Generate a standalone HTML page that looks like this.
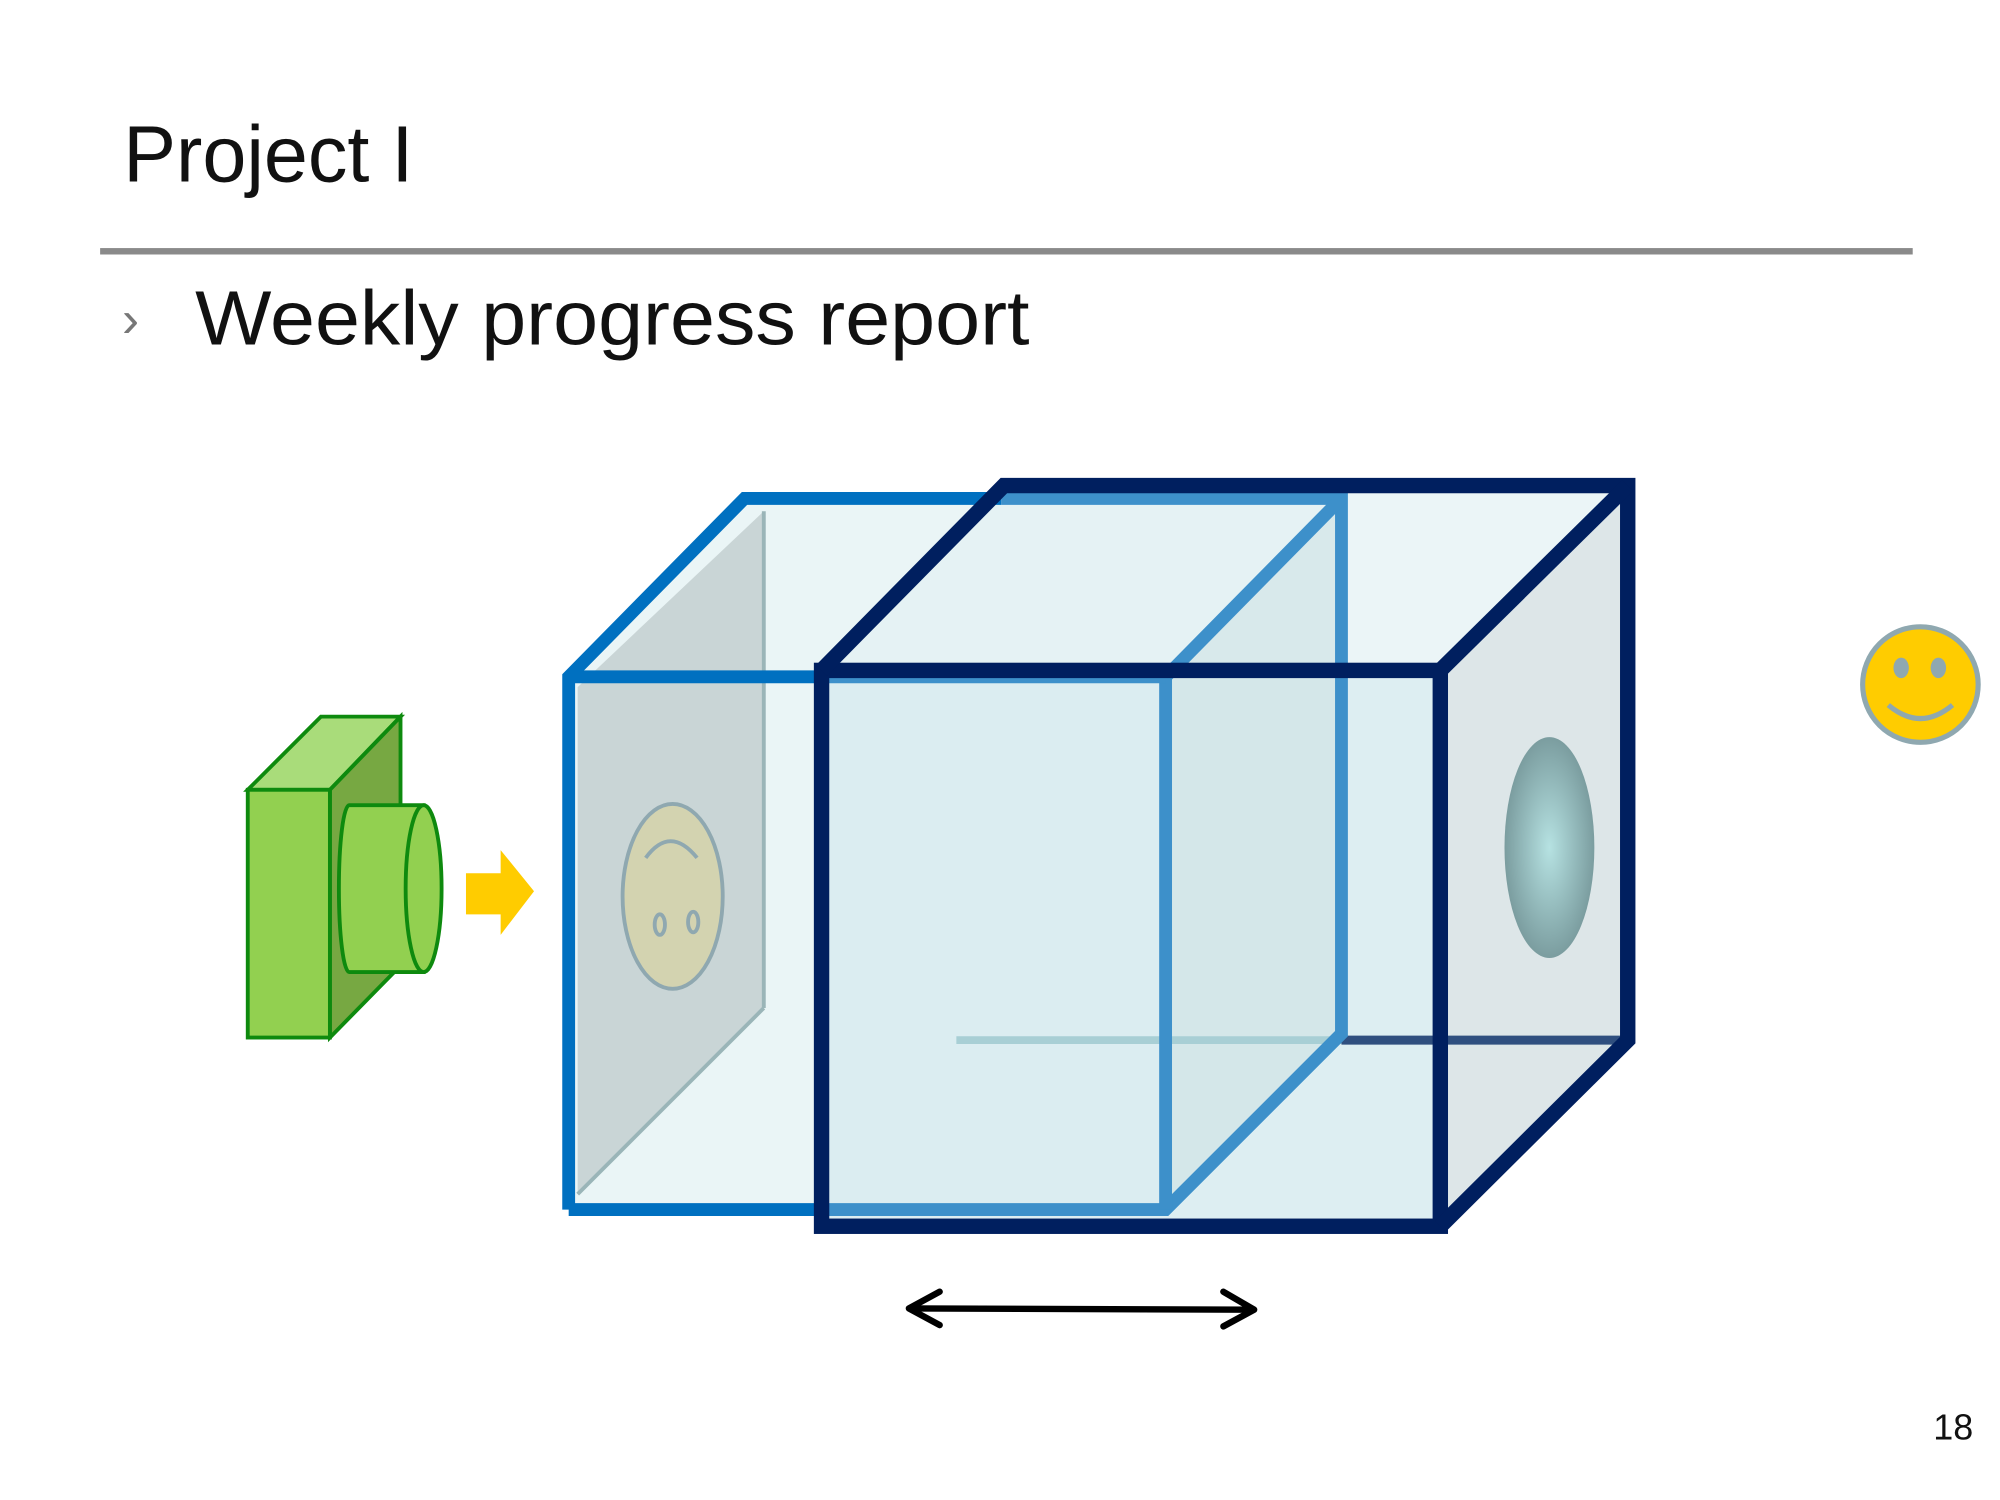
<!DOCTYPE html>
<html><head><meta charset="utf-8"><style>html,body{margin:0;padding:0;background:#fff}svg{display:block}</style></head>
<body>
<svg width="2000" height="1500" viewBox="0 0 1558 1168" xmlns="http://www.w3.org/2000/svg">
<defs>
<radialGradient id="hole" cx="0.5" cy="0.5" r="0.6">
<stop offset="0" stop-color="#b6e2e2"/><stop offset="1" stop-color="#6f8f92"/>
</radialGradient>
</defs>
<rect width="1558" height="1168" fill="#fff"/>
<text x="96" y="141" font-family="Liberation Sans, sans-serif" font-size="62" fill="#111" textLength="226" lengthAdjust="spacingAndGlyphs">Project I</text>
<rect x="78" y="193" width="1412" height="5" fill="#8a8a8a"/>
<text x="95" y="262" font-family="Liberation Sans, sans-serif" font-size="40" fill="#777">›</text>
<text x="152" y="268" font-family="Liberation Sans, sans-serif" font-size="60" fill="#111" textLength="650" lengthAdjust="spacingAndGlyphs">Weekly progress report</text>
<text x="1506" y="1121" font-family="Liberation Sans, sans-serif" font-size="28" fill="#111">18</text>

<!-- light cube fills -->
<polygon points="443,527 580,388 1045,388 1045,805 908,942 443,942" fill="#eaf5f6"/>
<polygon points="450,535 595,398 595,785 450,930" fill="#c9d5d6"/>
<line x1="595" y1="398" x2="595" y2="785" stroke="#9ab5b8" stroke-width="3"/>
<line x1="595" y1="785" x2="450" y2="930" stroke="#9ab5b8" stroke-width="3"/>
<!-- sad face -->
<ellipse cx="524" cy="698" rx="39" ry="72" fill="#d3d3b0" stroke="#8fa8b0" stroke-width="3"/>
<path d="M503,668 Q522,642 543,668" fill="none" stroke="#8fa8b0" stroke-width="3"/>
<ellipse cx="514" cy="720" rx="4" ry="8" fill="none" stroke="#8fa8b0" stroke-width="3"/>
<ellipse cx="540" cy="718" rx="4" ry="8" fill="none" stroke="#8fa8b0" stroke-width="3"/>

<!-- dark cube fills -->
<polygon points="640,522 782,378 1268,378 1268,810 1122,955 640,955" fill="#e3f1f3" fill-opacity="0.7"/>
<polygon points="1122,522 1268,378 1268,810 1122,955" fill="#dde6e8"/>
<rect x="640" y="522" width="482" height="433" fill="#d4eaee" fill-opacity="0.6"/>
<polygon points="908,527 1045,388 1045,805 908,942" fill="#cfe3e5" fill-opacity="0.6"/>
<ellipse cx="1207" cy="660" rx="35" ry="86" fill="url(#hole)"/>
<line x1="745" y1="810" x2="1045" y2="810" stroke="#a8cfd5" stroke-width="6"/>
<line x1="1045" y1="810" x2="1268" y2="810" stroke="#2f4f7f" stroke-width="7"/>

<!-- light cube edges -->
<g stroke="#0070c0" stroke-width="10" fill="none" stroke-linejoin="miter">
<polyline points="443,942 443,527 580,388 780,388"/>
<line x1="443" y1="942" x2="640" y2="942"/>
<line x1="443" y1="527" x2="640" y2="527"/>
</g>
<g stroke="#3d90ca" stroke-width="10" fill="none">
<polyline points="780,388 1045,388 1045,805 908,942 640,942"/>
<line x1="908" y1="527" x2="908" y2="942"/>
<line x1="640" y1="527" x2="908" y2="527"/>
<line x1="908" y1="527" x2="1045" y2="388"/>
</g>

<!-- dark cube edges -->
<g stroke="#001f5f" stroke-width="12" fill="none" stroke-linejoin="miter">
<rect x="640" y="522" width="482" height="433"/>
<polyline points="640,522 782,378 1268,378 1268,810 1122,955"/>
<line x1="1122" y1="522" x2="1268" y2="378"/>
</g>

<!-- camera -->
<g stroke="#0e8a0e" stroke-width="3" stroke-linejoin="miter">
<polygon points="193,615 250,558 312,558 257,615" fill="#a9dc7a"/>
<polygon points="257,615 312,558 312,752 257,808" fill="#77a842"/>
<rect x="193" y="615" width="64" height="193" fill="#92d050"/>
<path d="M272,627 L330,627 L330,757 L272,757 A8,65 0 0 1 272,627 Z" fill="#92d050"/>
<ellipse cx="330" cy="692" rx="14" ry="65" fill="#92d050"/>
</g>
<polygon points="363,680 390,680 390,662 416,694 390,728 390,712 363,712" fill="#ffcc00"/>

<!-- smiley -->
<circle cx="1496" cy="533" r="45" fill="#ffcc00" stroke="#8fa8b0" stroke-width="4"/>
<ellipse cx="1481" cy="520" rx="6" ry="8" fill="#8fa8b0"/>
<ellipse cx="1510" cy="520" rx="6" ry="8" fill="#8fa8b0"/>
<path d="M1471,549 Q1496,570 1521,549" fill="none" stroke="#8fa8b0" stroke-width="4"/>

<!-- double arrow -->
<g stroke="#000" stroke-width="5" fill="none" stroke-linecap="round" stroke-linejoin="round">
<line x1="710" y1="1019" x2="975" y2="1020"/>
<polyline points="732,1006 708,1019 732,1032"/>
<polyline points="953,1006 977,1020 953,1033"/>
</g>
</svg>
</body></html>
